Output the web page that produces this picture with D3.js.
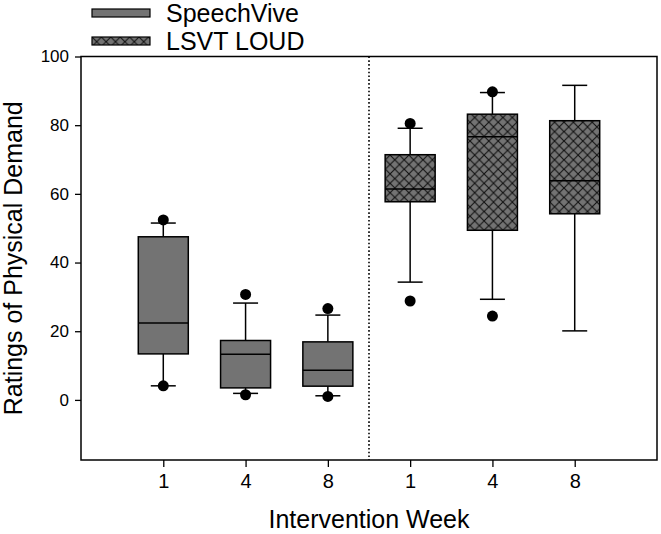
<!DOCTYPE html>
<html>
<head>
<meta charset="utf-8">
<script src="https://cdn.jsdelivr.net/npm/d3@7"></script>
<style>
  html, body { margin: 0; padding: 0; background: #fff; }
  svg { display: block; font-family: "Liberation Sans", Arial, sans-serif; }
</style>
</head>
<body>
<svg id="chart" width="661" height="534"></svg>
<script>
// ---- data ----
const categories = ["1", "4", "8", "1", "4", "8"];
const groups = ["SpeechVive", "SpeechVive", "SpeechVive", "LSVT LOUD", "LSVT LOUD", "LSVT LOUD"];
const q1 = [13.4, 3.5, 4.0, 57.7, 49.4, 54.2];
const medians = [22.4, 13.3, 8.6, 61.4, 76.6, 63.8];
const q3 = [47.5, 17.3, 16.9, 71.4, 83.2, 81.3];
const whiskerLow = [4.1, 1.9, 1.2, 34.3, 29.3, 20.1];
const whiskerHigh = [51.5, 28.2, 24.7, 79.1, 89.5, 91.6];
const outliers = [[52.4, 4.1], [30.7, 1.5], [26.6, 1.0], [80.5, 28.8], [89.7, 24.4], []];
const yTicks = [0, 20, 40, 60, 80, 100];
const legendItems = ["SpeechVive", "LSVT LOUD"];

// ---- layout ----
const svg = d3.select("#chart");
const mLeft = 81, mRight = 657, mTop = 56.5, mBottom = 460;
const x = d3.scaleLinear().domain([0, 7]).range([mLeft, mRight]);
const y = d3.scaleLinear().domain([-17.5, 100]).range([mBottom, mTop]);
const boxW = 50, capW = 25;
const fillGray = "#737373";

// crosshatch pattern
const defs = svg.append("defs");
const P = 9.4;
const pat = defs.append("pattern").attr("id", "xhatch")
  .attr("patternUnits", "userSpaceOnUse").attr("width", P).attr("height", P);
pat.append("rect").attr("width", P).attr("height", P).attr("fill", fillGray);
pat.append("path").attr("d", `M0,0 L${P},${P} M${P},0 L0,${P}`)
  .attr("stroke", "#111").attr("stroke-width", 1.1).attr("fill", "none");

const fillFor = g => g === "SpeechVive" ? fillGray : "url(#xhatch)";

// frame
svg.append("rect").attr("x", mLeft).attr("y", mTop).attr("width", mRight - mLeft).attr("height", mBottom - mTop)
  .attr("fill", "none").attr("stroke", "#000").attr("stroke-width", 1.5);

// divider
svg.append("line").attr("x1", x(3.5)).attr("x2", x(3.5)).attr("y1", mTop).attr("y2", mBottom)
  .attr("stroke", "#000").attr("stroke-width", 1.6).attr("stroke-dasharray", "1.6,2.2");

// y axis
const yAxis = svg.append("g").attr("transform", `translate(${mLeft},0)`)
  .call(d3.axisLeft(y).tickValues(yTicks).tickSize(6).tickPadding(6).tickFormat(d3.format("d")));
yAxis.select(".domain").remove();
yAxis.selectAll("line").attr("stroke", "#000").attr("stroke-width", 1.3);
yAxis.selectAll("text").attr("font-size", 17).attr("fill", "#000").attr("font-family", "Liberation Sans, Arial, sans-serif");

// x axis
const xAxis = svg.append("g").attr("transform", `translate(0,${mBottom})`)
  .call(d3.axisBottom(x).tickValues(d3.range(1, categories.length + 1)).tickSize(7).tickPadding(7)
    .tickFormat((d, i) => categories[i]));
xAxis.select(".domain").remove();
xAxis.selectAll("line").attr("stroke", "#000").attr("stroke-width", 1.3);
xAxis.selectAll("text").attr("font-size", 20).attr("fill", "#000").attr("font-family", "Liberation Sans, Arial, sans-serif");

// boxes
const data = categories.map((c, i) => ({
  pos: i + 1, group: groups[i], q1: q1[i], med: medians[i], q3: q3[i],
  lo: whiskerLow[i], hi: whiskerHigh[i], out: outliers[i]
}));

const g = svg.append("g").selectAll("g").data(data).join("g");
const lineAttrs = sel => sel.attr("stroke", "#000").attr("stroke-width", 1.5);

// whiskers
g.append("line").attr("x1", d => x(d.pos)).attr("x2", d => x(d.pos))
  .attr("y1", d => y(d.q3)).attr("y2", d => y(d.hi)).call(lineAttrs);
g.append("line").attr("x1", d => x(d.pos)).attr("x2", d => x(d.pos))
  .attr("y1", d => y(d.q1)).attr("y2", d => y(d.lo)).call(lineAttrs);
g.append("line").attr("x1", d => x(d.pos) - capW / 2).attr("x2", d => x(d.pos) + capW / 2)
  .attr("y1", d => y(d.hi)).attr("y2", d => y(d.hi)).call(lineAttrs);
g.append("line").attr("x1", d => x(d.pos) - capW / 2).attr("x2", d => x(d.pos) + capW / 2)
  .attr("y1", d => y(d.lo)).attr("y2", d => y(d.lo)).call(lineAttrs);
// box
g.append("rect").attr("x", d => x(d.pos) - boxW / 2).attr("width", boxW)
  .attr("y", d => y(d.q3)).attr("height", d => y(d.q1) - y(d.q3))
  .attr("fill", d => fillFor(d.group)).attr("stroke", "#000").attr("stroke-width", 1.5);
// median
g.append("line").attr("x1", d => x(d.pos) - boxW / 2).attr("x2", d => x(d.pos) + boxW / 2)
  .attr("y1", d => y(d.med)).attr("y2", d => y(d.med)).call(lineAttrs);
// outliers
g.selectAll("circle").data(d => d.out.map(v => ({ pos: d.pos, v }))).join("circle")
  .attr("cx", d => x(d.pos)).attr("cy", d => y(d.v)).attr("r", 5.5).attr("fill", "#000");

// axis titles
svg.append("text").attr("x", (mLeft + mRight) / 2).attr("y", 528).attr("text-anchor", "middle")
  .attr("font-size", 25).attr("fill", "#000").text("Intervention Week");
svg.append("text").attr("transform", `translate(22,${(mTop + mBottom) / 2}) rotate(-90)`)
  .attr("text-anchor", "middle").attr("font-size", 25).attr("fill", "#000").text("Ratings of Physical Demand");

// legend
const leg = svg.append("g").selectAll("g").data(legendItems).join("g")
  .attr("transform", (d, i) => `translate(92,${9 + i * 28})`);
leg.append("rect").attr("width", 58).attr("height", 8)
  .attr("fill", d => fillFor(d)).attr("stroke", "#000").attr("stroke-width", 1.2);
leg.append("text").attr("x", 74).attr("y", 13).attr("font-size", 25).attr("fill", "#000").text(d => d);
</script>
</body>
</html>
